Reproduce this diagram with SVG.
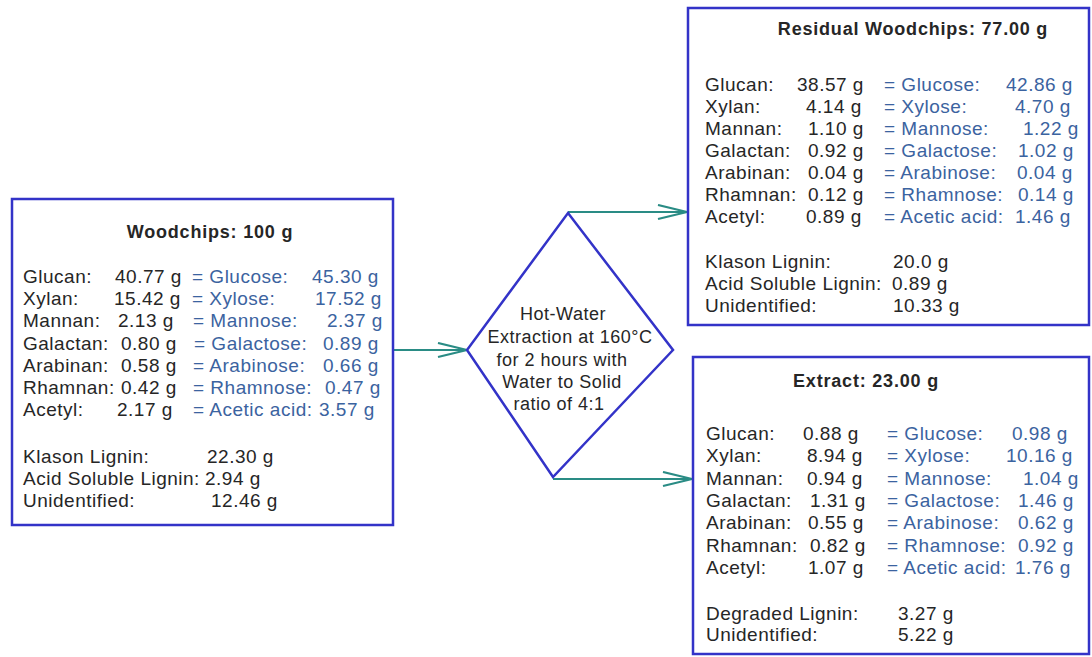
<svg xmlns="http://www.w3.org/2000/svg" width="1092" height="657" viewBox="0 0 1092 657">
<defs>
<style>
text{font-family:"Liberation Sans",Arial,sans-serif;font-size:19px;letter-spacing:0.5px;fill:#262626}
.t{font-weight:bold;text-anchor:middle;font-size:18px;letter-spacing:0.8px}
.d{font-size:18px;text-anchor:middle}
.b{fill:#3b63a0}
.box{fill:#fff;stroke:#3333c8;stroke-width:2.5}
.con{stroke:#2a8c85;stroke-width:2.2;fill:none;marker-end:url(#ah)}
</style>
<marker id="ah" markerUnits="userSpaceOnUse" markerWidth="34" markerHeight="18" refX="30" refY="8" orient="auto">
<path d="M1,1 L30,8 L1,15" fill="none" stroke="#2a8c85" stroke-width="2.2"/>
</marker>
</defs>
<rect width="1092" height="657" fill="#fff"/>
<g id="connectors">
<path class="con" d="M393,350 H467"/>
<path class="con" d="M568,212 H687"/>
<path class="con" d="M553,479 H692"/>
</g>
<g id="woodchips">
<rect class="box" x="12" y="199" width="381" height="326"/>
<text class="t" x="210" y="238">Woodchips: 100 g</text>
<text x="23" y="283">Glucan:</text><text x="115" y="283">40.77 g</text><text class="b" x="192" y="283">= Glucose:</text><text class="b" x="312" y="283">45.30 g</text>
<text x="23" y="305">Xylan:</text><text x="114" y="305">15.42 g</text><text class="b" x="192" y="305">= Xylose:</text><text class="b" x="315" y="305">17.52 g</text>
<text x="23" y="327">Mannan:</text><text x="118" y="327">2.13 g</text><text class="b" x="193" y="327">= Mannose:</text><text class="b" x="327" y="327">2.37 g</text>
<text x="23" y="350">Galactan:</text><text x="121" y="350">0.80 g</text><text class="b" x="194" y="350">= Galactose:</text><text class="b" x="323" y="350">0.89 g</text>
<text x="23" y="372">Arabinan:</text><text x="121" y="372">0.58 g</text><text class="b" x="193" y="372">= Arabinose:</text><text class="b" x="323" y="372">0.66 g</text>
<text x="23" y="394">Rhamnan:</text><text x="121" y="394">0.42 g</text><text class="b" x="193" y="394">= Rhamnose:</text><text class="b" x="325" y="394">0.47 g</text>
<text x="23" y="416">Acetyl:</text><text x="117" y="416">2.17 g</text><text class="b" x="193" y="416">= Acetic acid:</text><text class="b" x="319" y="416">3.57 g</text>
<text x="23" y="463">Klason Lignin:</text><text x="207" y="463">22.30 g</text>
<text x="23" y="485">Acid Soluble Lignin:</text><text x="205" y="485">2.94 g</text>
<text x="23" y="507">Unidentified:</text><text x="211" y="507">12.46 g</text>
</g>
<g id="extraction">
<polygon class="box" points="568,213 673,350 553,477 467,350"/>
<text class="d" x="563" y="320">Hot-Water</text>
<text class="d" x="570" y="343">Extraction at 160°C</text>
<text class="d" x="562" y="366">for 2 hours with</text>
<text class="d" x="562" y="388">Water to Solid</text>
<text class="d" x="559" y="410">ratio of 4:1</text>
</g>
<g id="residual">
<rect class="box" x="688" y="8" width="401" height="317"/>
<text class="t" x="913" y="35">Residual Woodchips: 77.00 g</text>
<text x="705" y="91">Glucan:</text><text x="797" y="91">38.57 g</text><text class="b" x="884" y="91">= Glucose:</text><text class="b" x="1006" y="91">42.86 g</text>
<text x="705" y="113">Xylan:</text><text x="806" y="113">4.14 g</text><text class="b" x="884" y="113">= Xylose:</text><text class="b" x="1015" y="113">4.70 g</text>
<text x="705" y="135">Mannan:</text><text x="808" y="135">1.10 g</text><text class="b" x="884" y="135">= Mannose:</text><text class="b" x="1023" y="135">1.22 g</text>
<text x="705" y="157">Galactan:</text><text x="808" y="157">0.92 g</text><text class="b" x="884" y="157">= Galactose:</text><text class="b" x="1018" y="157">1.02 g</text>
<text x="705" y="179">Arabinan:</text><text x="808" y="179">0.04 g</text><text class="b" x="884" y="179">= Arabinose:</text><text class="b" x="1017" y="179">0.04 g</text>
<text x="705" y="201">Rhamnan:</text><text x="808" y="201">0.12 g</text><text class="b" x="884" y="201">= Rhamnose:</text><text class="b" x="1018" y="201">0.14 g</text>
<text x="705" y="223">Acetyl:</text><text x="806" y="223">0.89 g</text><text class="b" x="884" y="223">= Acetic acid:</text><text class="b" x="1015" y="223">1.46 g</text>
<text x="705" y="268">Klason Lignin:</text><text x="893" y="268">20.0 g</text>
<text x="705" y="290">Acid Soluble Lignin:</text><text x="892" y="290">0.89 g</text>
<text x="705" y="312">Unidentified:</text><text x="893" y="312">10.33 g</text>
</g>
<g id="extract">
<rect class="box" x="693" y="357" width="396" height="297"/>
<text class="t" x="866" y="387">Extract: 23.00 g</text>
<text x="706" y="440">Glucan:</text><text x="803" y="440">0.88 g</text><text class="b" x="887" y="440">= Glucose:</text><text class="b" x="1012" y="440">0.98 g</text>
<text x="706" y="462">Xylan:</text><text x="807" y="462">8.94 g</text><text class="b" x="887" y="462">= Xylose:</text><text class="b" x="1006" y="462">10.16 g</text>
<text x="706" y="485">Mannan:</text><text x="807" y="485">0.94 g</text><text class="b" x="887" y="485">= Mannose:</text><text class="b" x="1023" y="485">1.04 g</text>
<text x="706" y="507">Galactan:</text><text x="810" y="507">1.31 g</text><text class="b" x="887" y="507">= Galactose:</text><text class="b" x="1018" y="507">1.46 g</text>
<text x="706" y="529">Arabinan:</text><text x="808" y="529">0.55 g</text><text class="b" x="887" y="529">= Arabinose:</text><text class="b" x="1018" y="529">0.62 g</text>
<text x="706" y="552">Rhamnan:</text><text x="810" y="552">0.82 g</text><text class="b" x="887" y="552">= Rhamnose:</text><text class="b" x="1018" y="552">0.92 g</text>
<text x="706" y="574">Acetyl:</text><text x="808" y="574">1.07 g</text><text class="b" x="887" y="574">= Acetic acid:</text><text class="b" x="1015" y="574">1.76 g</text>
<text x="706" y="620">Degraded Lignin:</text><text x="898" y="620">3.27 g</text>
<text x="706" y="641">Unidentified:</text><text x="898" y="641">5.22 g</text>
</g>
</svg>
